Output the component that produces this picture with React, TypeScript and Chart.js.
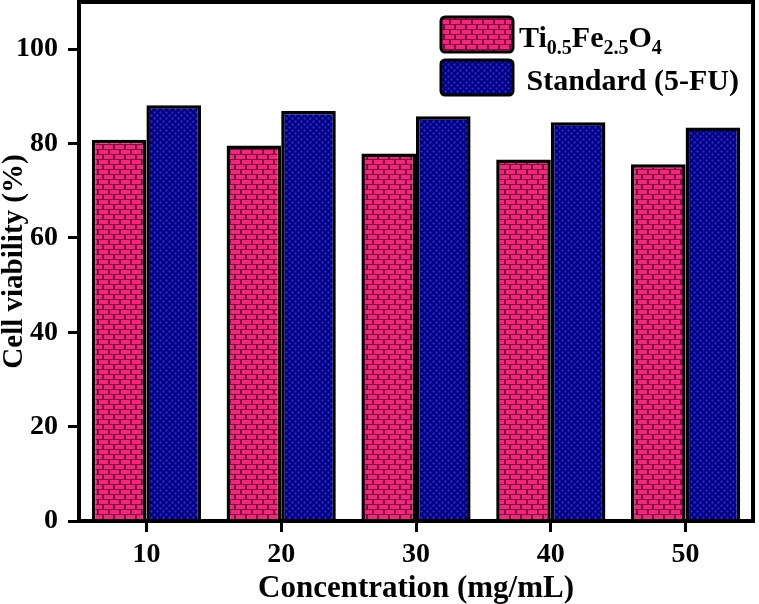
import { useEffect, useRef } from "react"
import { Chart, registerables, type ChartConfiguration, type Plugin } from "chart.js"

Chart.register(...registerables)

const categories = ["10", "20", "30", "40", "50"]
const tiFeValues = [80.8, 79.6, 77.9, 76.6, 75.6]
const standardValues = [88.1, 86.9, 85.8, 84.5, 83.4]
const yTicks = [0, 20, 40, 60, 80, 100]

const FONT = "'Liberation Serif', 'Times New Roman', serif"

// 벽돌 무늬 (분홍)
function brickPattern(ctx: CanvasRenderingContext2D) {
  const tile = document.createElement("canvas")
  tile.width = 11
  tile.height = 10
  const t = tile.getContext("2d")!
  t.fillStyle = "#7a0e3c"
  t.fillRect(0, 0, 11, 10)
  t.fillStyle = "#f7247e"
  t.fillRect(0, 0, 9, 4)
  t.fillRect(5, 5, 9, 4)
  t.fillRect(-6, 5, 9, 4)
  return ctx.createPattern(tile, "repeat")!
}

// 점 무늬 (파랑)
function dotPattern(ctx: CanvasRenderingContext2D) {
  const tile = document.createElement("canvas")
  tile.width = 6
  tile.height = 6
  const t = tile.getContext("2d")!
  t.fillStyle = "#00006e"
  t.fillRect(0, 0, 6, 6)
  t.fillStyle = "#2424ff"
  t.beginPath()
  t.arc(1.5, 1.5, 1.2, 0, Math.PI * 2)
  t.arc(4.5, 4.5, 1.2, 0, Math.PI * 2)
  t.fill()
  return ctx.createPattern(tile, "repeat")!
}

function roundRect(ctx: CanvasRenderingContext2D, x: number, y: number, w: number, h: number, r: number) {
  ctx.beginPath()
  ctx.moveTo(x + r, y)
  ctx.arcTo(x + w, y, x + w, y + h, r)
  ctx.arcTo(x + w, y + h, x, y + h, r)
  ctx.arcTo(x, y + h, x, y, r)
  ctx.arcTo(x, y, x + w, y, r)
  ctx.closePath()
}

// 위/오른쪽 테두리
const framePlugin: Plugin<"bar"> = {
  id: "frame",
  afterDatasetsDraw(chart) {
    const { ctx, chartArea } = chart
    ctx.save()
    ctx.strokeStyle = "#000"
    ctx.lineWidth = 4
    ctx.strokeRect(chartArea.left, chartArea.top, chartArea.right - chartArea.left, chartArea.bottom - chartArea.top)
    ctx.restore()
  },
}

// 아래첨자 있는 범례
const legendPlugin: Plugin<"bar"> = {
  id: "subLegend",
  afterDraw(chart) {
    const { ctx, chartArea } = chart
    const x0 = chartArea.right - 312
    const rows = [
      { y: 17, parts: [["Ti", false], ["0.5", true], ["Fe", false], ["2.5", true], ["O", false], ["4", true]] as [string, boolean][] },
      { y: 60, parts: [[" Standard (5-FU)", false]] as [string, boolean][] },
    ]
    ctx.save()
    rows.forEach((row, i) => {
      const ds = chart.data.datasets[i]
      roundRect(ctx, x0, row.y, 72, 35, 4)
      ctx.fillStyle = ds.backgroundColor as CanvasPattern
      ctx.fill()
      ctx.lineWidth = 3
      ctx.strokeStyle = "#000"
      ctx.stroke()

      let x = x0 + 78
      const baseline = row.y + 30
      ctx.fillStyle = "#000"
      ctx.textBaseline = "alphabetic"
      ctx.textAlign = "left"
      for (const [text, sub] of row.parts) {
        ctx.font = `bold ${sub ? 20 : 30}px ${FONT}`
        ctx.fillText(text, x, sub ? baseline + 7 : baseline)
        x += ctx.measureText(text).width
      }
    })
    ctx.restore()
  },
}

export default function App() {
  const chartRef = useRef<HTMLCanvasElement>(null)
  const chartInstance = useRef<Chart | null>(null)

  useEffect(() => {
    document.body.style.margin = "0"
    if (!chartRef.current) return
    const ctx = chartRef.current.getContext("2d")
    if (!ctx) return

    if (chartInstance.current) {
      chartInstance.current.destroy()
    }

    const tickFont = { family: FONT, size: 28, weight: "bold" as const }
    const titleFont = { family: FONT, size: 29, weight: "bold" as const, lineHeight: 1 }

    const config: ChartConfiguration<"bar"> = {
      type: "bar",
      data: {
        labels: categories,
        datasets: [
          {
            label: "Ti0.5Fe2.5O4",
            data: tiFeValues,
            backgroundColor: brickPattern(ctx),
            borderColor: "#000",
            borderWidth: 3.5,
            barPercentage: 1,
            categoryPercentage: 0.81,
          },
          {
            label: "Standard (5-FU)",
            data: standardValues,
            backgroundColor: dotPattern(ctx),
            borderColor: "#000",
            borderWidth: 3.5,
            barPercentage: 1,
            categoryPercentage: 0.81,
          },
        ],
      },
      options: {
        responsive: false,
        animation: false,
        layout: { padding: { top: 2, right: 6, left: 0, bottom: 0 } },
        plugins: {
          legend: { display: false },
          tooltip: { enabled: false },
        },
        scales: {
          x: {
            grid: {
              offset: false,
              drawOnChartArea: false,
              drawTicks: true,
              tickLength: 11,
              tickWidth: 3,
              color: "#000",
            },
            border: { display: true, width: 4, color: "#000" },
            ticks: { font: tickFont, color: "#000", padding: 6, maxRotation: 0 },
            title: {
              display: true,
              text: "Concentration (mg/mL)",
              font: { ...titleFont, size: 31 },
              color: "#000",
              padding: { top: 0, bottom: 0 },
            },
            afterFit: (scale) => {
              scale.height = 83
              scale.paddingLeft = 0
              scale.paddingRight = 0
            },
          },
          y: {
            min: 0,
            max: 110,
            grid: {
              drawOnChartArea: false,
              drawTicks: true,
              tickLength: 11,
              tickWidth: 3,
              color: "#000",
            },
            border: { display: true, width: 4, color: "#000" },
            ticks: { font: tickFont, color: "#000", padding: 10 },
            afterBuildTicks: (scale) => {
              scale.ticks = yTicks.map((v) => ({ value: v }))
            },
            title: {
              display: true,
              text: "Cell viability (%)",
              font: titleFont,
              color: "#000",
              padding: { top: 0, bottom: 0 },
            },
            afterFit: (scale) => {
              scale.width = 79
              scale.paddingTop = 0
              scale.paddingBottom = 0
            },
          },
        },
      },
      plugins: [framePlugin, legendPlugin],
    }

    chartInstance.current = new Chart(ctx, config)

    return () => {
      if (chartInstance.current) {
        chartInstance.current.destroy()
        chartInstance.current = null
      }
    }
  }, [])

  return (
    <div style={{ width: 759, height: 604, background: "#fff" }}>
      <canvas ref={chartRef} width={759} height={604} />
    </div>
  )
}
